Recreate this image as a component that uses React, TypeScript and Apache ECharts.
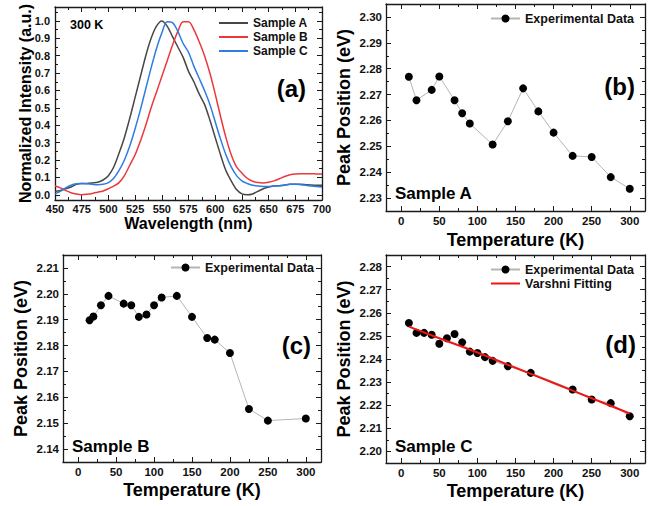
import React, { useEffect, useRef } from 'react';
import * as echarts from 'echarts';

const FONT = '"Liberation Sans", Arial, sans-serif';

// Panel (a): normalized PL spectra at 300 K
const wavelengths = [450, 455, 460, 465, 470, 475, 480, 485, 490, 495, 500, 505, 510, 515, 520, 525, 530, 535, 540, 545, 550, 555, 560, 565, 570, 575, 580, 585, 590, 595, 600, 605, 610, 615, 620, 625, 630, 635, 640, 645, 650, 655, 660, 665, 670, 675, 680, 685, 690, 695, 700];
const intensityA = [0.02, 0.025, 0.035, 0.045, 0.06, 0.065, 0.065, 0.068, 0.072, 0.085, 0.11, 0.16, 0.24, 0.33, 0.44, 0.56, 0.68, 0.8, 0.9, 0.97, 1.0, 0.97, 0.91, 0.85, 0.79, 0.71, 0.65, 0.58, 0.52, 0.43, 0.33, 0.23, 0.14, 0.08, 0.03, 0.005, 0.0, 0.005, 0.02, 0.035, 0.045, 0.05, 0.052, 0.055, 0.06, 0.06, 0.06, 0.058, 0.056, 0.055, 0.055];
const intensityB = [0.05, 0.04, 0.025, 0.012, 0.004, 0.0, 0.003, 0.008, 0.015, 0.022, 0.035, 0.05, 0.07, 0.11, 0.17, 0.23, 0.31, 0.4, 0.5, 0.59, 0.68, 0.77, 0.86, 0.94, 0.995, 0.995, 0.95, 0.88, 0.8, 0.7, 0.58, 0.45, 0.33, 0.23, 0.16, 0.125, 0.095, 0.078, 0.07, 0.068, 0.072, 0.08, 0.092, 0.105, 0.115, 0.12, 0.121, 0.121, 0.121, 0.12, 0.12];
const intensityC = [0.005, 0.02, 0.04, 0.055, 0.063, 0.065, 0.063, 0.06, 0.058, 0.06, 0.07, 0.095, 0.14, 0.2, 0.28, 0.38, 0.49, 0.61, 0.73, 0.84, 0.93, 0.995, 0.99, 0.94, 0.87, 0.82, 0.74, 0.67, 0.6, 0.52, 0.42, 0.32, 0.23, 0.16, 0.11, 0.08, 0.065, 0.055, 0.05, 0.048, 0.048, 0.05, 0.052, 0.056, 0.06, 0.06, 0.058, 0.055, 0.05, 0.047, 0.045];

// Panel (b): Sample A
const tempA = [10, 20, 40, 50, 70, 80, 90, 120, 140, 160, 180, 200, 225, 250, 275, 300];
const peakA = [2.2769, 2.2678, 2.2718, 2.277, 2.2678, 2.2628, 2.2588, 2.2507, 2.2597, 2.2724, 2.2635, 2.2553, 2.2463, 2.2459, 2.2381, 2.2336];

// Panel (c): Sample B
const tempB = [15, 20, 30, 40, 60, 70, 80, 90, 100, 110, 130, 150, 170, 180, 200, 225, 250, 300];
const peakB = [2.1898, 2.1912, 2.1956, 2.1992, 2.1962, 2.1956, 2.1911, 2.192, 2.1956, 2.1986, 2.1992, 2.1911, 2.1829, 2.1823, 2.1771, 2.1555, 2.151, 2.1518];

// Panel (d): Sample C + Varshni fit
const tempC = [10, 20, 30, 40, 50, 60, 70, 80, 90, 100, 110, 120, 140, 170, 225, 250, 275, 300];
const peakC = [2.2556, 2.2513, 2.2513, 2.2505, 2.2466, 2.249, 2.2508, 2.2472, 2.2432, 2.2426, 2.2408, 2.2392, 2.2369, 2.234, 2.2268, 2.2225, 2.2209, 2.2152];
const fitTemp = [10, 50, 100, 150, 200, 250, 300];
const fitPeakC = [2.254, 2.249, 2.2428, 2.2362, 2.2296, 2.223, 2.2164];

const labelStyle = (size: number) => ({
  color: '#111',
  fontWeight: 'bold' as const,
  fontFamily: FONT,
  fontSize: size,
});

const lineCol = '#1a1a1a';

function axisPair(
  dim: 'x' | 'y',
  gridIndex: number,
  min: number,
  max: number,
  opts: { splitNumber?: number; interval?: number; name: string; nameGap: number; nameSize: number; labelSize: number; decimals: number; margin: number }
) {
  const common: any = {
    type: 'value',
    gridIndex,
    min,
    max,
    scale: true,
    splitLine: { show: false },
    axisLine: { show: true, onZero: false, lineStyle: { color: lineCol, width: 1.3 } },
    axisTick: { show: true, inside: true, length: 5, lineStyle: { color: lineCol, width: 1 } },
    minorTick: { show: true, splitNumber: 2, length: 3, lineStyle: { color: lineCol, width: 1 } },
    minorSplitLine: { show: false },
  };
  if (opts.splitNumber != null) common.splitNumber = opts.splitNumber;
  if (opts.interval != null) common.interval = opts.interval;
  const main = {
    ...common,
    position: dim === 'x' ? 'bottom' : 'left',
    name: opts.name,
    nameLocation: 'middle',
    nameGap: opts.nameGap,
    nameMoveOverlap: false,
    nameTextStyle: { ...labelStyle(opts.nameSize), color: '#000' },
    axisLabel: {
      show: true,
      margin: opts.margin,
      showMinLabel: opts.interval != null && dim === 'x',
      showMaxLabel: opts.interval != null && dim === 'x',
      hideOverlap: false,
      ...labelStyle(opts.labelSize),
      formatter: (v: number) => v.toFixed(opts.decimals),
    },
  };
  const mirror = {
    ...common,
    position: dim === 'x' ? 'top' : 'right',
    axisLabel: { show: false },
  };
  return [main, mirror];
}

export default function App() {
  const ref = useRef<HTMLDivElement>(null);

  useEffect(() => {
    if (!ref.current) return;
    const chart = echarts.init(ref.current, undefined, { renderer: 'svg' });

    const grids = [
      { left: 55, top: 7, width: 267, height: 193 },
      { left: 386, top: 4, width: 259, height: 207 },
      { left: 63, top: 255, width: 258, height: 207 },
      { left: 386, top: 255, width: 259, height: 208 },
    ].map((g) => ({ ...g, outerBoundsMode: 'none', containLabel: false }));

    const xAxes = [
      ...axisPair('x', 0, 450, 700, { interval: 25, name: 'Wavelength (nm)', nameGap: 15, nameSize: 16, labelSize: 11, decimals: 0, margin: 3 }),
      ...axisPair('x', 1, -20, 320, { splitNumber: 7, name: 'Temperature (K)', nameGap: 20, nameSize: 18, labelSize: 11.5, decimals: 0, margin: 4 }),
      ...axisPair('x', 2, -20, 320, { splitNumber: 7, name: 'Temperature (K)', nameGap: 19, nameSize: 18, labelSize: 11.5, decimals: 0, margin: 4 }),
      ...axisPair('x', 3, -20, 320, { splitNumber: 7, name: 'Temperature (K)', nameGap: 19, nameSize: 18, labelSize: 11.5, decimals: 0, margin: 4 }),
    ];
    const yAxes = [
      ...axisPair('y', 0, -0.03, 1.08, { splitNumber: 11, name: 'Normalized Intensity (a.u.)', nameGap: 22, nameSize: 16, labelSize: 11, decimals: 1, margin: 5 }),
      ...axisPair('y', 1, 2.225, 2.305, { splitNumber: 8, name: 'Peak Position (eV)', nameGap: 33, nameSize: 18, labelSize: 11.5, decimals: 2, margin: 4 }),
      ...axisPair('y', 2, 2.135, 2.215, { splitNumber: 8, name: 'Peak Position (eV)', nameGap: 33, nameSize: 18, labelSize: 11.5, decimals: 2, margin: 4 }),
      ...axisPair('y', 3, 2.195, 2.285, { splitNumber: 9, name: 'Peak Position (eV)', nameGap: 33, nameSize: 18, labelSize: 11.5, decimals: 2, margin: 4 }),
    ];

    const spec = (name: string, vals: number[], color: string) => ({
      type: 'line',
      name,
      xAxisIndex: 0,
      yAxisIndex: 0,
      data: wavelengths.map((w, i) => [w, vals[i]]),
      smooth: 0.3,
      symbol: 'none',
      lineStyle: { color, width: 1.5 },
      itemStyle: { color },
      z: 3,
    });

    const exp = (idx: number, t: number[], e: number[]) => ({
      type: 'line',
      name: 'Experimental Data',
      xAxisIndex: idx * 2,
      yAxisIndex: idx * 2,
      data: t.map((v, i) => [v, e[i]]),
      symbol: 'circle',
      symbolSize: 8,
      showSymbol: true,
      lineStyle: { color: '#b5b5b5', width: 1 },
      itemStyle: { color: '#000' },
      z: 3,
    });

    const legendBase = (size: number) => ({
      orient: 'vertical',
      itemWidth: 29,
      itemHeight: 10,
      itemGap: 1,
      padding: 0,
      selectedMode: false,
      textStyle: { ...labelStyle(size), color: '#111' },
    });
    const noDot = (name: string) => ({ name, itemStyle: { opacity: 0 } });

    const textEl = (text: string, x: number, y: number, size: number, align: string) => ({
      type: 'text',
      x,
      y,
      z: 50,
      style: {
        text,
        fill: '#000',
        fontSize: size,
        fontWeight: 'bold',
        fontFamily: FONT,
        align,
        verticalAlign: 'middle',
      },
    });

    chart.setOption({
      animation: false,
      backgroundColor: '#fff',
      grid: grids,
      xAxis: xAxes,
      yAxis: yAxes,
      legend: [
        { ...legendBase(12), itemGap: 2, left: 218, top: 17, data: [noDot('Sample A'), noDot('Sample B'), noDot('Sample C')] },
        { ...legendBase(12.5), left: 490, top: 12, data: ['Experimental Data'] },
        { ...legendBase(12.5), left: 170, top: 261, data: ['Experimental Data'] },
        { ...legendBase(12.5), left: 490, top: 263, data: ['Experimental Data', noDot('Varshni Fitting')] },
      ],
      series: [
        spec('Sample A', intensityA, '#474747'),
        spec('Sample B', intensityB, '#e9393d'),
        spec('Sample C', intensityC, '#2e7de2'),
        exp(1, tempA, peakA),
        exp(2, tempB, peakB),
        exp(3, tempC, peakC),
        {
          type: 'line',
          name: 'Varshni Fitting',
          xAxisIndex: 6,
          yAxisIndex: 6,
          data: fitTemp.map((t, i) => [t, fitPeakC[i]]),
          smooth: true,
          symbol: 'none',
          lineStyle: { color: '#ee1515', width: 2 },
          itemStyle: { color: '#ee1515' },
          z: 5,
        },
      ],
      graphic: [
        textEl('300 K', 70, 25, 12.5, 'left'),
        textEl('(a)', 306, 88, 24, 'right'),
        textEl('(b)', 635, 86, 24, 'right'),
        textEl('(c)', 311, 345, 24, 'right'),
        textEl('(d)', 636, 344, 24, 'right'),
        textEl('Sample A', 395, 193, 17, 'left'),
        textEl('Sample B', 72, 446, 17, 'left'),
        textEl('Sample C', 395, 446, 17, 'left'),
      ],
    });

    return () => chart.dispose();
  }, []);

  return (
    <div
      ref={ref}
      style={{ position: 'absolute', left: 0, top: 0, width: 661, height: 506, background: '#fff' }}
    />
  );
}
